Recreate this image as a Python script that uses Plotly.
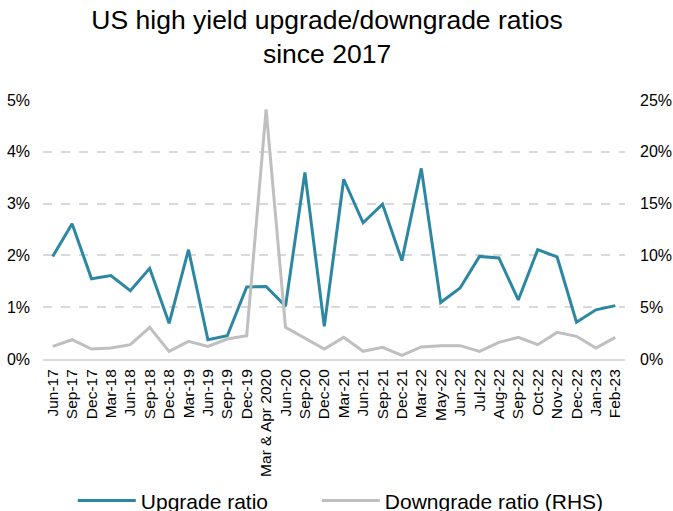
import plotly.graph_objects as go

# Rating action periods
periods = [
    "Jun-17", "Sep-17", "Dec-17", "Mar-18", "Jun-18", "Sep-18", "Dec-18",
    "Mar-19", "Jun-19", "Sep-19", "Dec-19", "Mar & Apr 2020", "Jun-20",
    "Sep-20", "Dec-20", "Mar-21", "Jun-21", "Sep-21", "Dec-21", "Mar-22",
    "May-22", "Jun-22", "Jul-22", "Aug-22", "Sep-22", "Oct-22", "Nov-22",
    "Dec-22", "Jan-23", "Feb-23",
]

# Upgrade ratio, % (left axis)
upgrade_pct = [
    1.98, 2.61, 1.55, 1.61, 1.32, 1.75, 0.69, 2.11, 0.37, 0.45, 1.39, 1.40,
    1.02, 3.60, 0.63, 3.47, 2.63, 2.99, 1.90, 3.68, 1.09, 1.37, 1.98, 1.95,
    1.14, 2.11, 1.97, 0.71, 0.95, 1.03,
]

# Downgrade ratio, % (right axis)
downgrade_pct = [
    1.22, 1.86, 0.96, 1.06, 1.38, 3.05, 0.74, 1.70, 1.22, 1.93, 2.25, 24.1,
    3.05, 2.03, 0.96, 2.09, 0.74, 1.13, 0.35, 1.16, 1.29, 1.29, 0.74, 1.61,
    2.09, 1.38, 2.57, 2.19, 1.06, 2.09,
]

FONT = "Liberation Sans, Arial, sans-serif"
TEAL = "#2C87A2"
GREY = "#BFBFBF"

fig = go.Figure()
fig.add_trace(go.Scatter(
    x=periods, y=[v / 100 for v in upgrade_pct], name="Upgrade ratio",
    mode="lines", line=dict(color=TEAL, width=3), yaxis="y",
    legendwidth=171,
))
fig.add_trace(go.Scatter(
    x=periods, y=[v / 100 for v in downgrade_pct], name="Downgrade ratio (RHS)",
    mode="lines", line=dict(color=GREY, width=3), yaxis="y2",
    legendwidth=240,
))

fig.update_layout(
    width=673, height=511,
    margin=dict(l=43, r=48, t=100, b=152, autoexpand=False),
    paper_bgcolor="white", plot_bgcolor="white",
    font=dict(family=FONT, color="#000000"),
    title=dict(
        text="US high yield upgrade/downgrade ratios<br>since 2017",
        x=0.486, xanchor="center", yref="container", y=0.944, yanchor="middle",
        font=dict(size=26.5, family=FONT, color="#000000"),
    ),
    showlegend=True,
    legend=dict(
        orientation="h", x=0.0512, xanchor="left", y=-0.548, yanchor="middle",
        font=dict(size=21, family=FONT), bgcolor="rgba(0,0,0,0)",
        itemwidth=58, tracegroupgap=0,
    ),
    xaxis=dict(
        type="category", tickangle=-90, tickfont=dict(size=15.5),
        showgrid=False, showline=True, linecolor="#D9D9D9", linewidth=2,
        ticks="", range=[-0.5, len(periods) - 0.5], ticklabelstandoff=2,
        automargin=False,
    ),
    yaxis=dict(
        range=[0, 0.05], dtick=0.01, tickformat=".0%",
        showgrid=True, gridcolor="#D9D9D9", griddash="dash", gridwidth=1.5,
        zeroline=False, showline=False, tickfont=dict(size=16),
        ticklabelstandoff=12, automargin=False,
    ),
    yaxis2=dict(
        range=[0, 0.25], dtick=0.05, tickformat=".0%", overlaying="y",
        side="right", showgrid=False, zeroline=False, showline=False,
        tickfont=dict(size=16), ticklabelstandoff=14, automargin=False,
    ),
)

fig.write_html("out.html")
